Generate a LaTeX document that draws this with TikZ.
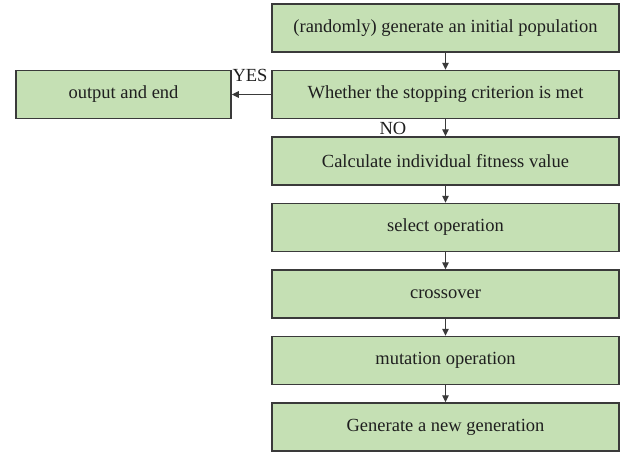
\documentclass[tikz,border=0pt]{standalone}
\usepackage{fontspec}
\setmainfont{Liberation Serif}
\usetikzlibrary{arrows.meta}
\definecolor{boxfill}{HTML}{C5E0B4}
\definecolor{edge}{HTML}{3A3A3A}
\begin{document}
\begin{tikzpicture}[x=1pt,y=-1pt,
  box/.style={draw=edge,line width=1.5pt,fill=boxfill,minimum width=347pt,minimum height=48pt,inner sep=0pt,font=\fontsize{18.5}{21}\selectfont,text=black!88},
  lbox/.style={box,minimum width=215pt},
  arr/.style={draw=edge,line width=1.2pt,-{Triangle[length=7pt,width=6.5pt]}},
  lab/.style={font=\fontsize{18.5}{21}\selectfont,text=black!88,inner sep=0pt}]
\useasboundingbox (0,0) rectangle (633,453);
\node[box] (n1) at (445.5,28) {(randomly) generate an initial population};
\node[box] (n2) at (445.5,94.5) {Whether the stopping criterion is met};
\node[box] (n3) at (445.5,161) {Calculate individual fitness value};
\node[box] (n4) at (445.5,227.5) {select operation};
\node[box] (n5) at (445.5,294) {crossover};
\node[box] (n6) at (445.5,360.5) {mutation operation};
\node[box] (n7) at (445.5,427) {Generate a new generation};
\node[lbox] (out) at (123.5,94.5) {output and end};
\draw[arr] (n1) -- (n2);
\draw[arr] (n2) -- (n3);
\draw[arr] (n3) -- (n4);
\draw[arr] (n4) -- (n5);
\draw[arr] (n5) -- (n6);
\draw[arr] (n6) -- (n7);
\draw[arr] (n2.west) -- (out.east);
\node[lab] (yes) at (250,75) {YES};
\node[lab] (no) at (393,128) {NO};
\end{tikzpicture}
\end{document}
